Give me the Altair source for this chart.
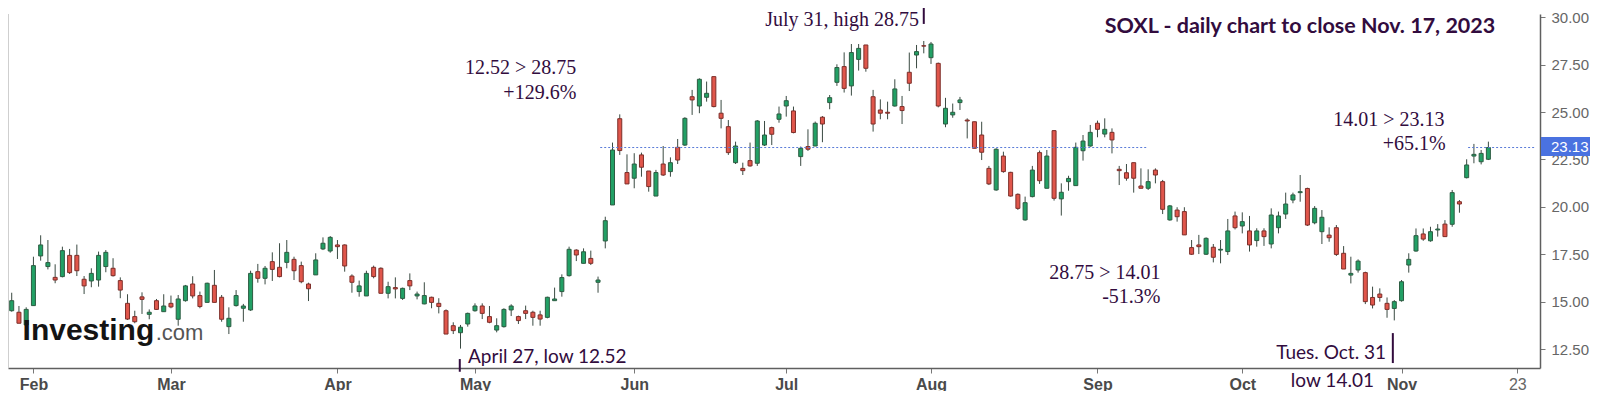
import altair as alt
import pandas as pd

# ---------------- data ----------------
open_ = [14.52, 14.44, 13.77, 14.79, 17.41, 16.85, 16.28, 16.32, 17.44, 17.44,
         16.18, 16.09, 16.14, 16.85, 16.76, 16.11, 14.91, 14.21, 15.25, 14.33,
         15.05, 14.47, 14.91, 14.07, 15.05, 15.93, 15.32, 14.96, 15.86, 15.23,
         13.68, 14.79, 14.65, 14.56, 16.58, 16.23, 17.11, 16.81, 17.07, 17.23,
         16.90, 15.93, 16.41, 17.78, 17.67, 17.99, 17.99, 16.35, 15.53, 15.30,
         16.81, 16.76, 15.44, 15.74, 15.17, 16.11, 15.30, 14.88, 15.23, 14.91,
         14.52, 13.73, 13.36, 13.82, 14.52, 14.77, 14.21, 13.50, 13.68, 14.56,
         14.21, 14.52, 14.44, 14.30, 14.17, 15.05, 15.53, 16.37, 17.72, 17.02,
         17.28, 16.02, 18.20, 20.10, 24.65, 21.81, 21.51, 22.74, 21.89, 20.57,
         22.26, 21.86, 23.14, 23.26, 25.81, 25.32, 25.78, 26.87, 24.94, 24.23,
         22.33, 22.03, 22.44, 22.30, 23.26, 24.18, 24.62, 25.32, 25.06, 22.65,
         23.18, 23.21, 24.73, 25.50, 26.57, 27.40, 26.38, 27.78, 28.54, 25.81,
         25.11, 24.99, 25.32, 25.29, 27.10, 28.01, 28.50, 27.87, 27.57, 24.37,
         24.85, 25.50, 24.58, 24.49, 23.79, 22.03, 20.89, 22.68, 21.82, 20.66,
         19.31, 20.54, 22.86, 20.98, 24.02, 20.42, 21.33, 21.12, 22.96, 23.21,
         24.41, 23.84, 23.93, 21.98, 21.80, 22.33, 21.10, 20.98, 21.94, 21.33,
         19.31, 19.83, 19.75, 17.85, 17.99, 17.50, 17.87, 17.72, 17.64, 19.52,
         18.99, 18.73, 18.22, 18.73, 18.04, 18.90, 19.62, 20.36, 20.75, 20.97,
         19.16, 18.69, 18.51, 18.90, 17.55, 16.40, 16.67, 16.53, 15.22, 15.40,
         14.91, 14.64, 15.05, 16.93, 17.67, 18.57, 18.21, 18.78, 19.09, 19.08,
         20.27, 21.54, 22.68, 22.38, 22.51]
high = [15.47, 14.77, 14.70, 17.37, 18.50, 18.25, 16.97, 17.90, 17.78, 18.01,
        16.35, 16.76, 17.64, 17.72, 17.29, 16.28, 15.39, 14.52, 15.49, 14.59,
        15.14, 15.39, 15.32, 15.35, 15.88, 16.34, 15.53, 16.00, 16.67, 15.35,
        14.70, 15.61, 14.88, 16.63, 16.99, 16.88, 17.60, 18.08, 18.25, 17.37,
        17.11, 16.00, 17.55, 18.39, 18.46, 18.25, 18.02, 16.44, 16.11, 16.63,
        16.90, 16.81, 16.05, 16.28, 15.74, 16.49, 15.53, 16.02, 15.26, 15.18,
        14.59, 13.91, 13.77, 14.42, 14.91, 14.91, 14.77, 14.12, 14.65, 14.86,
        14.26, 14.79, 14.52, 14.52, 15.26, 15.74, 16.44, 17.90, 17.76, 17.81,
        17.69, 16.32, 19.48, 23.39, 24.88, 22.77, 22.83, 22.86, 21.89, 21.95,
        23.21, 22.61, 23.58, 24.73, 26.17, 26.78, 26.61, 26.87, 25.64, 24.58,
        23.44, 22.33, 23.39, 24.58, 24.53, 24.23, 25.29, 25.85, 25.29, 23.18,
        24.09, 24.50, 24.79, 25.90, 27.52, 28.15, 28.59, 28.59, 28.54, 26.17,
        25.67, 25.55, 26.73, 25.85, 28.14, 28.54, 28.75, 28.70, 27.61, 25.75,
        25.45, 25.80, 24.67, 24.49, 24.49, 22.16, 23.09, 22.91, 21.85, 20.71,
        20.54, 22.16, 22.97, 23.00, 24.05, 21.24, 21.64, 23.39, 23.79, 24.32,
        24.55, 24.67, 24.14, 22.16, 22.26, 22.33, 22.03, 21.98, 22.03, 21.42,
        20.10, 19.98, 19.98, 18.25, 18.52, 18.39, 18.04, 18.25, 19.36, 19.75,
        19.71, 19.52, 18.87, 18.87, 19.92, 19.75, 20.75, 20.75, 21.68, 21.01,
        20.04, 19.83, 18.92, 19.04, 17.93, 17.37, 17.23, 16.58, 15.79, 15.70,
        15.22, 15.08, 16.14, 17.55, 18.86, 18.86, 18.95, 19.09, 19.30, 20.89,
        20.36, 22.51, 23.32, 23.00, 23.44]
low = [14.47, 13.86, 13.77, 14.79, 17.16, 16.70, 15.97, 16.28, 16.46, 16.35,
       15.40, 15.76, 15.79, 16.55, 16.32, 15.18, 14.03, 13.86, 14.35, 14.07,
       14.56, 14.47, 14.65, 13.73, 15.00, 15.17, 14.65, 14.96, 14.96, 13.94,
       13.29, 14.74, 13.94, 14.51, 16.00, 15.91, 16.09, 16.28, 16.76, 16.14,
       15.97, 15.03, 16.41, 17.72, 17.58, 17.25, 16.58, 15.47, 15.26, 15.30,
       16.23, 15.44, 15.17, 15.17, 15.09, 15.61, 15.12, 14.86, 14.65, 14.38,
       13.29, 13.29, 12.52, 13.68, 14.47, 14.08, 13.86, 13.38, 13.63, 14.24,
       13.82, 14.08, 13.73, 13.73, 14.12, 15.05, 15.26, 16.32, 17.14, 17.02,
       16.93, 15.47, 17.81, 20.10, 22.74, 21.21, 20.98, 21.59, 20.80, 20.57,
       21.63, 21.59, 22.26, 23.21, 24.85, 24.94, 25.55, 25.25, 24.14, 22.74,
       22.26, 21.68, 22.12, 22.16, 23.21, 23.26, 24.44, 24.76, 23.88, 22.16,
       22.95, 23.21, 23.41, 25.15, 26.38, 26.03, 25.87, 27.19, 27.13, 23.97,
       24.62, 24.62, 25.29, 24.37, 26.11, 27.31, 28.10, 27.54, 25.25, 24.20,
       24.70, 25.11, 23.61, 23.09, 22.47, 21.15, 20.85, 21.80, 20.54, 19.84,
       19.27, 20.50, 21.21, 20.98, 20.33, 19.54, 20.85, 21.12, 22.44, 23.17,
       23.67, 23.67, 22.82, 21.15, 21.38, 20.75, 20.98, 20.89, 21.24, 19.62,
       19.27, 19.22, 18.52, 17.46, 17.51, 17.46, 17.07, 17.02, 17.46, 18.81,
       18.60, 17.64, 17.90, 17.94, 17.81, 18.60, 19.36, 20.19, 20.27, 18.99,
       19.08, 18.04, 18.16, 17.41, 16.72, 15.96, 16.53, 14.87, 14.64, 15.00,
       14.15, 14.01, 15.00, 16.53, 17.63, 18.21, 18.16, 18.43, 18.43, 18.95,
       19.69, 21.50, 22.30, 22.24, 22.47]
close = [15.05, 13.86, 14.59, 16.90, 17.99, 17.06, 16.14, 17.69, 16.53, 16.63,
         15.83, 16.49, 17.44, 17.60, 16.37, 15.61, 14.08, 13.94, 15.12, 14.44,
         14.59, 14.77, 14.72, 15.14, 15.83, 15.30, 14.74, 15.97, 14.96, 14.07,
         14.12, 15.32, 14.77, 16.49, 16.23, 16.76, 16.70, 16.32, 17.60, 16.63,
         16.05, 15.68, 17.20, 18.08, 18.39, 17.90, 16.88, 16.02, 15.83, 16.49,
         16.32, 15.44, 15.79, 15.67, 15.70, 15.83, 15.40, 15.32, 14.96, 14.74,
         13.29, 13.47, 13.65, 14.38, 14.77, 14.38, 13.91, 13.73, 14.59, 14.77,
         14.00, 14.38, 14.17, 14.08, 15.23, 15.14, 16.27, 17.76, 17.46, 17.63,
         17.02, 16.14, 19.27, 23.00, 22.97, 21.21, 22.26, 22.09, 21.07, 21.81,
         21.68, 22.33, 22.47, 24.67, 25.64, 26.73, 25.99, 25.29, 24.67, 22.86,
         23.21, 21.91, 22.16, 24.53, 23.79, 23.83, 24.90, 25.60, 23.92, 23.09,
         23.04, 24.41, 24.37, 25.76, 27.35, 26.25, 28.14, 28.36, 27.31, 24.37,
         24.94, 24.94, 26.22, 25.08, 26.52, 28.19, 28.48, 28.59, 25.32, 25.20,
         24.99, 25.64, 24.53, 23.09, 22.88, 21.21, 23.04, 21.86, 20.57, 19.92,
         20.22, 21.94, 21.38, 22.68, 20.45, 20.77, 21.50, 23.14, 23.47, 23.93,
         24.09, 24.09, 23.53, 21.91, 21.51, 21.51, 20.98, 21.33, 21.68, 19.87,
         20.05, 19.48, 18.52, 17.50, 17.90, 18.34, 17.34, 17.76, 18.73, 18.90,
         19.22, 17.99, 18.73, 18.43, 19.57, 19.52, 20.15, 20.63, 20.80, 19.04,
         19.92, 19.45, 18.37, 17.49, 16.72, 16.49, 17.14, 15.00, 14.82, 15.22,
         14.59, 15.00, 16.05, 17.23, 18.48, 18.30, 18.69, 18.83, 18.43, 20.75,
         20.15, 22.21, 22.77, 22.82, 23.13]

holidays = ["2023-02-20", "2023-04-07", "2023-05-29", "2023-06-19",
            "2023-07-04", "2023-09-04"]
dates = pd.bdate_range("2023-01-27", "2023-11-17", freq="C", holidays=holidays)

month_labels = ["Feb", "Mar", "Apr", "May", "Jun", "Jul", "Aug", "Sep", "Oct", "Nov"]
end_label = "23"
end_date = "2023-11-23"

y_tick_values = [12.5, 15.0, 17.5, 20.0, 22.5, 25.0, 27.5, 30.0]
last_close = 23.13

annotations_serif = [
    ("July 31, high 28.75", 125.35, 29.87),
    ("12.52 > 28.75", 78.0, 27.31),
    ("+129.6%", 78.0, 25.99),
    ("28.75 > 14.01", 158.7, 16.51),
    ("-51.3%", 158.7, 15.24),
    ("14.01 > 23.13", 197.95, 24.58),
    ("+65.1%", 198.1, 23.29),
]
annotations_sans = [
    ("April 27, low 12.52", 63.04, 12.06, "left"),
    ("Tues. Oct. 31", 189.86, 12.29, "right"),
    ("low 14.01", 182.45, 10.82, "center"),
]
title_text = ("SOXL - daily chart to close Nov. 17, 2023", 204.95, 29.48)
pointer_bars = [(126.0, 29.65, 30.65), (61.9, 11.30, 11.97), (190.8, 11.76, 13.34)]
price_line_segments = [(81.3, 156.9), (201.2, 210.44)]

# ---------------- build tables ----------------
n = len(close)
assert len(dates) == n
df = pd.DataFrame({"i": list(range(n)), "date": dates.strftime("%Y-%m-%d"),
                   "open": open_, "high": high, "low": low, "close": close})

month_idx = [k for k in range(1, n) if dates[k].month != dates[k - 1].month]
ext = pd.bdate_range("2023-01-27", end_date, freq="C", holidays=holidays)
tick_idx = month_idx + [len(ext) - 1]
tick_lab = month_labels + [end_label]
label_expr = "".join(f"datum.value === {k} ? '{lab}' : " for k, lab in zip(tick_idx, tick_lab)) + "''"

W, H = 1532, 354
PAD_R = 50
xs = alt.Scale(domain=[0.178, 210.44], nice=False, zero=False)
ys = alt.Scale(domain=[11.4985, 30.174], nice=False, zero=False)

TXT = "#320c3e"
UP_F, UP_S = "#22a065", "#2c5c42"
DN_F, DN_S = "#e0564b", "#7d2f2a"
WICK = "#3a4a42"

last_tick = tick_idx[-1]
x_axis = alt.Axis(values=tick_idx, labelExpr=label_expr, title=None, grid=False,
                  tickSize=5, tickColor="#777777", domainColor="#5f5f5f", domainWidth=1.5,
                  labelFont="Liberation Sans", labelFontSize=16, labelPadding=3,
                  labelFontWeight={"condition": {"test": f"datum.value === {last_tick}", "value": "normal"}, "value": "bold"},
                  labelColor={"condition": {"test": f"datum.value === {last_tick}", "value": "#666666"}, "value": "#4a4a4a"},
                  labelFlush=False, labelOverlap=False)
y_axis = alt.Axis(orient="right", values=y_tick_values, format=".2f", title=None, grid=False,
                  tickSize=5, tickColor="#777777", domainColor="#5f5f5f", domainWidth=1.5,
                  labelFont="Liberation Sans", labelFontSize=15, labelColor="#666666",
                  labelPadding=6, labelFlush=False, labelOverlap=False)


def X(field):
    return alt.X(field, scale=xs, axis=x_axis)


def Y(field):
    return alt.Y(field, scale=ys, axis=y_axis)


base = alt.Chart(df)
wicks = base.mark_rule(color=WICK, strokeWidth=1).encode(
    x=X("i:Q"), y=Y("low:Q"), y2="high:Q")
bodies = base.mark_bar(size=4, strokeWidth=1).encode(
    x=X("i:Q"), y=Y("open:Q"), y2="close:Q",
    fill=alt.condition("datum.close >= datum.open", alt.value(UP_F), alt.value(DN_F)),
    stroke=alt.condition("datum.close >= datum.open", alt.value(UP_S), alt.value(DN_S)),
    tooltip=["date:N", "open:Q", "high:Q", "low:Q", "close:Q"],
)

left_border = alt.Chart(pd.DataFrame({"k": [0]})).mark_rule(color="#cfcfcf", strokeWidth=1).encode(
    x=alt.value(0.5), y=alt.value(0), y2=alt.value(H))

pl = pd.DataFrame({"x1": [a for a, b in price_line_segments],
                   "x2": [b for a, b in price_line_segments],
                   "v": [last_close] * len(price_line_segments)})
price_line = alt.Chart(pl).mark_rule(color="#5a7bd8", strokeDash=[2, 2], strokeWidth=1).encode(
    x=X("x1:Q"), x2="x2:Q", y=Y("v:Q"))

pb = pd.DataFrame({"x": [p[0] for p in pointer_bars], "y1": [p[1] for p in pointer_bars],
                   "y2": [p[2] for p in pointer_bars]})
pointers = alt.Chart(pb).mark_rule(color=TXT, strokeWidth=2).encode(
    x=X("x:Q"), y=Y("y1:Q"), y2="y2:Q")

sdf = pd.DataFrame({"t": [a[0] for a in annotations_serif], "x": [a[1] for a in annotations_serif],
                    "y": [a[2] for a in annotations_serif]})
serif_txt = alt.Chart(sdf).mark_text(font="Liberation Serif", fontSize=20, color=TXT,
                                     align="right", baseline="middle").encode(
    x=X("x:Q"), y=Y("y:Q"), text="t:N")

sans_layers = []
for t, xv, yv, al in annotations_sans:
    d = pd.DataFrame({"t": [t], "x": [xv], "y": [yv]})
    sans_layers.append(alt.Chart(d).mark_text(font="Lato", fontSize=19, color=TXT,
                                              align=al, baseline="middle").encode(
        x=X("x:Q"), y=Y("y:Q"), text="t:N"))

tdf = pd.DataFrame({"t": [title_text[0]], "x": [title_text[1]], "y": [title_text[2]]})
title_layer = alt.Chart(tdf).mark_text(font="Lato", fontSize=21.5, fontWeight="bold", color=TXT,
                                       align="right", baseline="middle").encode(
    x=X("x:Q"), y=Y("y:Q"), text="t:N")

logo1 = alt.Chart(pd.DataFrame({"t": ["Investing"], "x": [1.5], "y": [12.95]})).mark_text(
    font="Liberation Sans", fontSize=30, fontWeight="bold", color="#141414",
    align="left", baseline="alphabetic").encode(x=X("x:Q"), y=Y("y:Q"), text="t:N")
logo2 = alt.Chart(pd.DataFrame({"t": [".com"], "x": [19.9], "y": [12.95]})).mark_text(
    font="Liberation Sans", fontSize=22, color="#555555",
    align="left", baseline="alphabetic").encode(x=X("x:Q"), y=Y("y:Q"), text="t:N")

lbl = pd.DataFrame({"top": [last_close + 0.55], "bot": [last_close - 0.45],
                    "mid": [last_close + 0.05], "t": [f"{last_close:.2f}"]})
price_box = alt.Chart(lbl).mark_rect(color="#4a72e0").encode(
    x=alt.value(W + 1), x2=alt.value(W + PAD_R), y=Y("top:Q"), y2="bot:Q")
price_txt = alt.Chart(lbl).mark_text(font="Liberation Sans", fontSize=15, color="white",
                                     align="left", baseline="middle").encode(
    x=alt.value(W + 11), y=Y("mid:Q"), text="t:N")

chart = alt.layer(left_border, wicks, bodies, price_line, pointers, serif_txt, *sans_layers,
                  title_layer, logo1, logo2, price_box, price_txt).properties(
    width=W, height=H,
    padding={"left": 0, "top": 6, "right": PAD_R, "bottom": 23},
    autosize=alt.AutoSizeParams(type="none"),
    background="white",
).configure_view(strokeWidth=0)

chart.save("out.html", embed_options={"renderer": "svg", "actions": False})
